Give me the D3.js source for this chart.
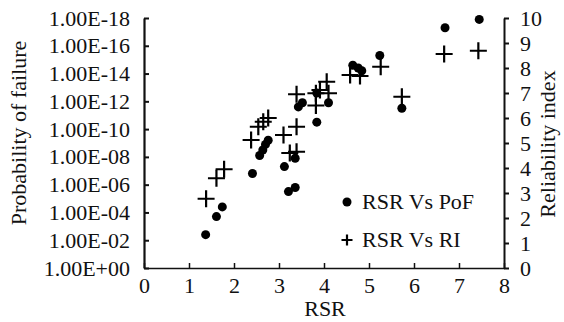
<!DOCTYPE html>
<html>
<head>
<meta charset="utf-8">
<script src="https://cdn.jsdelivr.net/npm/d3@7"></script>
<style>
  body { margin: 0; background: #fff; }
</style>
</head>
<body>
<svg id="chart"></svg>
<script>
// RSR vs probability of failure (PoF = 10^-pofExp)
const pofRsr = [1.37, 1.61, 1.74, 2.41, 2.57, 2.64, 2.70, 2.76, 3.12, 3.21, 3.36, 3.36,
                3.43, 3.52, 3.84, 3.84, 4.10, 4.64, 4.76, 4.84, 5.24, 5.73, 6.69, 7.45];
const pofExp = [2.4, 3.7, 4.4, 6.8, 8.1, 8.5, 8.9, 9.2, 7.3, 5.5, 5.8, 7.9,
                11.6, 11.9, 10.5, 12.6, 11.9, 14.6, 14.4, 14.2, 15.3, 11.5, 17.3, 17.9];

// RSR vs reliability index
const riRsr = [1.38, 1.61, 1.78, 2.38, 2.54, 2.65, 2.76, 3.10, 3.24, 3.39, 3.39, 3.39,
               3.82, 3.82, 3.91, 4.06, 4.10, 4.58, 4.80, 5.26, 5.73, 6.67, 7.43];
const riVal = [2.77, 3.59, 3.95, 5.12, 5.65, 5.85, 6.00, 5.32, 4.60, 4.65, 5.65, 6.95,
               6.50, 6.99, 7.12, 7.45, 6.99, 7.72, 7.68, 8.05, 6.85, 8.56, 8.69];

const xTicks = [0, 1, 2, 3, 4, 5, 6, 7, 8];
const pofTicks = [1e0, 1e-2, 1e-4, 1e-6, 1e-8, 1e-10, 1e-12, 1e-14, 1e-16, 1e-18];
const riTicks = [0, 1, 2, 3, 4, 5, 6, 7, 8, 9, 10];
const legendLabels = ["RSR Vs PoF", "RSR Vs RI"];

const width = 564, height = 322;
const margin = {top: 18, right: 60, bottom: 54, left: 144};
const font = "'Liberation Serif', 'Times New Roman', Times, serif";

const svg = d3.select("#chart")
    .attr("width", width)
    .attr("height", height)
    .style("font-family", font);

const x = d3.scaleLinear()
    .domain([0, 8])
    .range([margin.left, width - margin.right]);

const yPof = d3.scaleLog()
    .domain([1, 1e-18])
    .range([height - margin.bottom, margin.top]);

const yRi = d3.scaleLinear()
    .domain([0, 10])
    .range([height - margin.bottom, margin.top]);

const fmtPof = d => {
    const e = Math.round(-Math.log10(d));
    return e === 0 ? "1.00E+00" : "1.00E-" + String(e).padStart(2, "0");
};

const styleText = g => g.selectAll("text")
    .style("font-family", font)
    .style("font-size", "22px")
    .attr("fill", "#111");

// x axis, ticks pointing up into the plot
svg.append("g")
    .attr("transform", `translate(0,${height - margin.bottom})`)
    .call(d3.axisBottom(x).tickValues(xTicks).tickSize(-5).tickPadding(9).tickSizeOuter(0))
    .call(g => g.select(".domain").attr("stroke", "#111").attr("stroke-width", 1.3))
    .call(g => g.selectAll(".tick line").attr("stroke", "#111").attr("stroke-width", 1.5))
    .call(styleText);

// left axis, probability of failure
svg.append("g")
    .attr("transform", `translate(${margin.left},0)`)
    .call(d3.axisLeft(yPof).tickValues(pofTicks).tickFormat(fmtPof).tickSize(-5).tickPadding(14).tickSizeOuter(0))
    .call(g => g.select(".domain").attr("stroke", "#111").attr("stroke-width", 2.2))
    .call(g => g.selectAll(".tick line").attr("stroke", "#111").attr("stroke-width", 2))
    .call(styleText);

// right axis, reliability index
svg.append("g")
    .attr("transform", `translate(${width - margin.right},0)`)
    .call(d3.axisRight(yRi).tickValues(riTicks).tickSize(5).tickPadding(11).tickSizeOuter(0))
    .call(g => g.select(".domain").attr("stroke", "#111").attr("stroke-width", 2))
    .call(g => g.selectAll(".tick line").attr("stroke", "#111").attr("stroke-width", 2))
    .call(styleText);

// axis titles
const titles = svg.append("g");
titles.append("text")
    .attr("x", (x(0) + x(8)) / 2 + 1)
    .attr("y", 316)
    .attr("text-anchor", "middle")
    .text("RSR");

titles.append("text")
    .attr("transform", `translate(26,${(margin.top + height - margin.bottom) / 2 - 10}) rotate(-90)`)
    .attr("text-anchor", "middle")
    .text("Probability of failure");

titles.append("text")
    .attr("transform", `translate(555,${(margin.top + height - margin.bottom) / 2 + 1}) rotate(-90)`)
    .attr("text-anchor", "middle")
    .text("Reliability index");

titles.call(styleText);

// points
const pofData = pofRsr.map((r, i) => ({x: r, y: Math.pow(10, -pofExp[i])}));
const riData = riRsr.map((r, i) => ({x: r, y: riVal[i]}));

svg.append("g")
    .selectAll("circle")
    .data(pofData)
    .join("circle")
    .attr("cx", d => x(d.x))
    .attr("cy", d => yPof(d.y))
    .attr("r", 4.5)
    .attr("fill", "#000");

const cross = (g, size) => g
    .append("path")
    .attr("d", `M${-size},0H${size}M0,${-size}V${size}`)
    .attr("stroke", "#000")
    .attr("stroke-width", 2.2)
    .attr("fill", "none");

svg.append("g")
    .selectAll("g")
    .data(riData)
    .join("g")
    .attr("transform", d => `translate(${x(d.x)},${yRi(d.y)})`)
    .call(g => cross(g, 8.5));

// legend
const legend = svg.append("g").attr("class", "legend");
legend.selectAll("g")
    .data(legendLabels)
    .join("g")
    .attr("transform", (d, i) => `translate(347,${202 + i * 38})`)
    .each(function (d, i) {
        const g = d3.select(this);
        if (i === 0) {
            g.append("circle").attr("r", 4.5).attr("fill", "#000");
        } else {
            cross(g, 5.5);
        }
        g.append("text")
            .attr("x", 15)
            .attr("y", 7)
            .text(d);
    });
legend.call(styleText);
</script>
</body>
</html>
